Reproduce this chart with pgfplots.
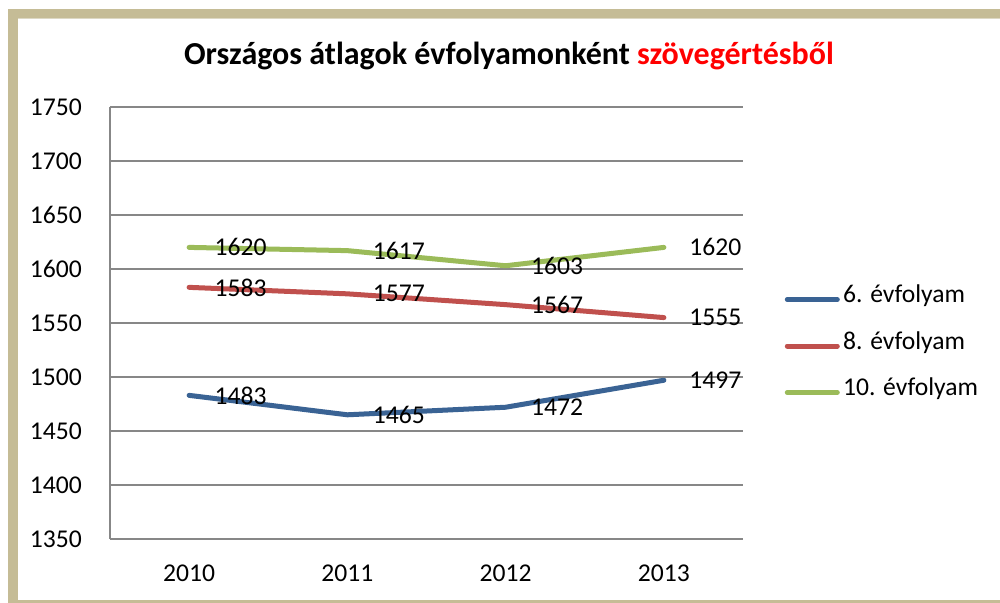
\documentclass[border=0pt]{standalone}
\usepackage{fontspec}
\setmainfont{Carlito}
\usepackage{pgfplots}
\pgfplotsset{compat=1.18}

\definecolor{framecol}{HTML}{C5BC96}
\definecolor{framelight}{HTML}{DDD8C4}
\definecolor{gridgray}{HTML}{878787}
\definecolor{s6}{HTML}{3A6394}
\definecolor{s8}{HTML}{C0504D}
\definecolor{s10}{HTML}{9BBB59}
\definecolor{titlered}{HTML}{FF0000}

\newcommand{\chartfont}{\fontsize{19.2}{23}\selectfont}

\begin{document}
\begin{tikzpicture}[x=0.75pt,y=0.75pt]
% picture is 1000 x 603 px, 1 px = 0.75pt, y measured from the bottom
\useasboundingbox (0,0) rectangle (1000,603);
\clip (0,0) rectangle (1000,603);
\fill[framecol] (8,594) rectangle (1020,-12);
\fill[white] (18,584.5) rectangle (1010,2.5);
\draw[framelight, line width=0.75pt] (18,584) -- (1010,584);

\node[font=\bfseries\fontsize{24}{28}\selectfont, anchor=base] at (509,538)
  {Országos átlagok évfolyamonként \textcolor{titlered}{szövegértésből}};

\begin{axis}[
  at={(82.5pt,48pt)}, anchor=south west,
  scale only axis,
  width=474.75pt, height=324pt,
  xmin=-0.5, xmax=3.5,
  ymin=1350, ymax=1750,
  xtick={0,1,2,3},
  xticklabels={2010,2011,2012,2013},
  ytick distance=50,
  major tick length=0pt,
  axis x line*=bottom,
  axis y line*=left,
  axis line style={gridgray, line width=1.1pt},
  ymajorgrids,
  grid style={gridgray, line width=1.1pt},
  /pgf/number format/assume math mode=true,
  /pgf/number format/1000 sep={},
  tick label style={font=\chartfont, text=black},
  yticklabel style={inner sep=0pt, xshift=-21pt},
  xticklabel style={inner sep=0pt, yshift=-19.5pt},
  every axis plot/.append style={line width=3.75pt, line join=round, line cap=round},
  nodes near coords,
  nodes near coords style={font=\chartfont, text=black, anchor=west, inner sep=0pt, xshift=17.25pt,
    /pgf/number format/assume math mode=true, /pgf/number format/1000 sep={}},
  legend style={draw=none, fill=none, inner sep=0pt,
    at={(axis description cs:1.0656,0.4467)}, anchor=west,
    font=\chartfont, row sep=25.4pt, column sep=2.5pt,
    nodes={inner sep=0pt, text height=0.72em, text depth=0.22em},
    cells={anchor=west}},
  legend image code/.code={\draw[#1] (0pt,0pt) -- (37.5pt,0pt);},
  legend cell align=left,
]
\addplot[s6] coordinates {(0,1483) (1,1465) (2,1472) (3,1497)};
\addlegendentry{6. évfolyam}
\addplot[s8] coordinates {(0,1583) (1,1577) (2,1567) (3,1555)};
\addlegendentry{8. évfolyam}
\addplot[s10] coordinates {(0,1620) (1,1617) (2,1603) (3,1620)};
\addlegendentry{10. évfolyam}
\end{axis}
\end{tikzpicture}
\end{document}
